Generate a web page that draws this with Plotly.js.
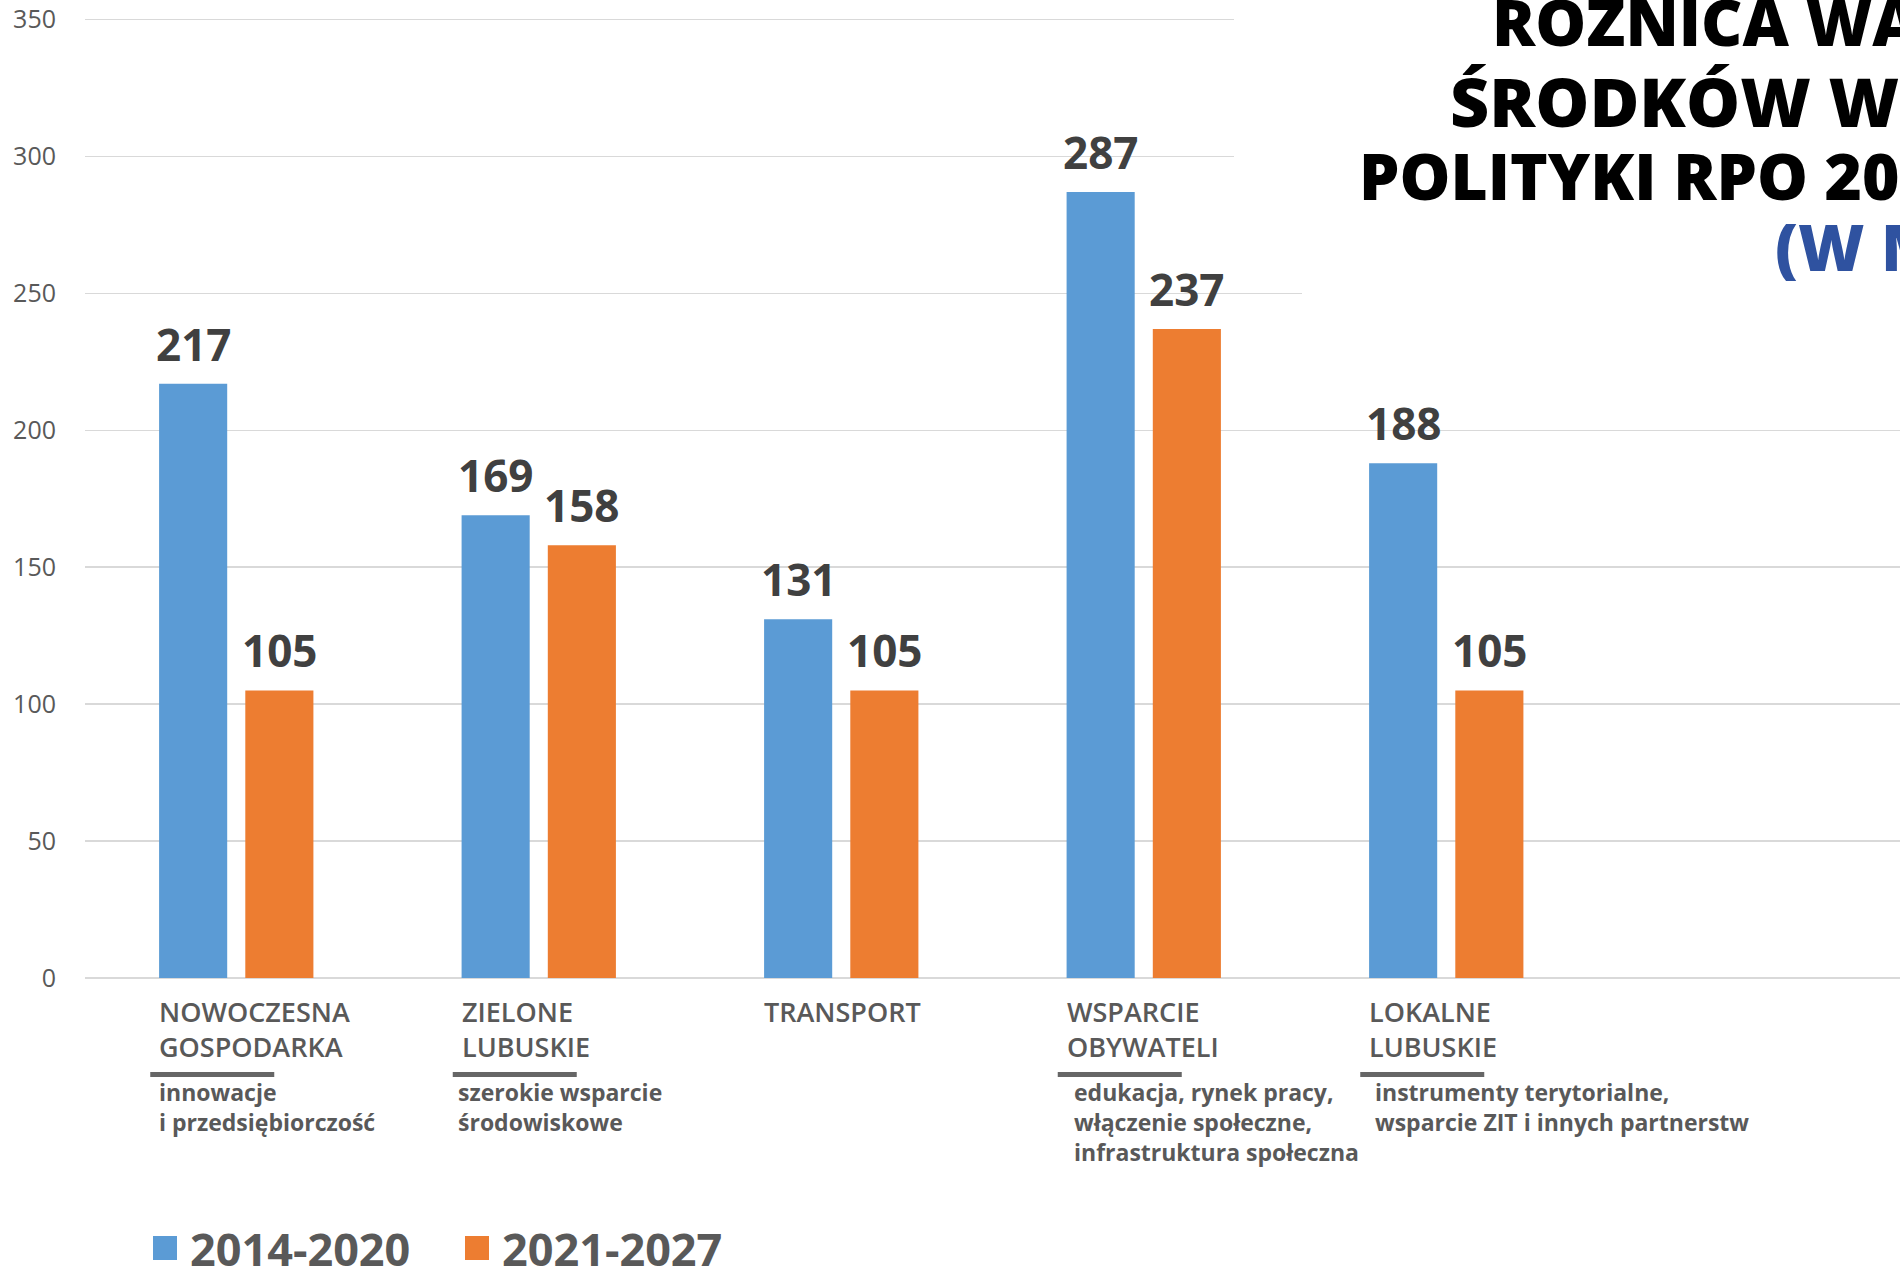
<!DOCTYPE html>
<html>
<head>
<meta charset="utf-8">
<script src="https://cdn.plot.ly/plotly-3.0.1.min.js"></script>
<style>
  html, body { margin: 0; padding: 0; background: #ffffff; overflow: hidden; }
  #chart { width: 1900px; height: 1269px; }
</style>
</head>
<body>
<div id="chart"></div>
<script>
// ---- data ----
const categories = ['NOWOCZESNA GOSPODARKA', 'ZIELONE LUBUSKIE', 'TRANSPORT', 'WSPARCIE OBYWATELI', 'LOKALNE LUBUSKIE'];
const categoryLabels = ['NOWOCZESNA<br>GOSPODARKA', 'ZIELONE<br>LUBUSKIE', 'TRANSPORT', 'WSPARCIE<br>OBYWATELI', 'LOKALNE<br>LUBUSKIE'];
const subtitles = [
  'innowacje<br>i przedsiębiorczość',
  'szerokie wsparcie<br>środowiskowe',
  '',
  'edukacja, rynek pracy,<br>włączenie społeczne,<br>infrastruktura społeczna',
  'instrumenty terytorialne,<br>wsparcie ZIT i innych partnerstw'
];
const underlined = [true, true, false, true, true];
const seriesNames = ['2014-2020', '2021-2027'];
const values2014 = [217, 169, 131, 287, 188];
const values2021 = [105, 158, 105, 237, 105];
// title as visible in the (cropped) reference
const titleLines = ['RÓŻNICA WA', 'ŚRODKÓW W', 'POLITYKI RPO 20', '(W M'];
const yTicks = [0, 50, 100, 150, 200, 250, 300, 350];

// ---- styles / geometry ----
const W = 1900, H = 1269;
const M = { l: 85, r: 0, t: 14, b: 291 };
const Y_MAX = 352;
const plotW = W - M.l - M.r, plotH = H - M.t - M.b;
const px = X => (X - M.l) / plotW;          // pixel -> paper x
const py = Y => (H - M.b - Y) / plotH;      // pixel -> paper y
const BLUE = '#5b9bd5', ORANGE = '#ed7d31', GREY = '#595959', DARK = '#404040';
const FONT = '"Open Sans", "Noto Sans", sans-serif';
const bargap = 0.43, bargroupgap = 0.21;
const barOffset = (1 - bargap) / 4;
const subtitleShift = [-79, -83, 0, -72, -73];

const traces = [
  { type: 'bar', name: seriesNames[0], x: categories, y: values2014, marker: { color: BLUE }, hoverinfo: 'none' },
  { type: 'bar', name: seriesNames[1], x: categories, y: values2021, marker: { color: ORANGE }, hoverinfo: 'none' }
];

const annotations = [];
const shapes = [];

// value labels
[values2014, values2021].forEach((vals, s) => {
  vals.forEach((v, i) => {
    annotations.push({
      xref: 'x', yref: 'y', x: i + (s === 0 ? -barOffset : barOffset), y: v,
      text: String(v), showarrow: false, xanchor: 'center', yanchor: 'bottom', yshift: 8,
      font: { family: FONT, size: 44, color: DARK, weight: 700 }
    });
  });
});

// category labels, underlines, subtitles
categoryLabels.forEach((lab, i) => {
  annotations.push({
    xref: 'x', yref: 'paper', x: i, y: 0, xshift: -79, yshift: -13,
    text: lab, showarrow: false, xanchor: 'left', yanchor: 'top', align: 'left',
    font: { family: FONT, size: 27, color: GREY, weight: 600 }
  });
  if (subtitles[i]) {
    annotations.push({
      xref: 'x', yref: 'paper', x: i, y: 0, xshift: subtitleShift[i], yshift: -96,
      text: subtitles[i], showarrow: false, xanchor: 'left', yanchor: 'top', align: 'left',
      font: { family: FONT, size: 23, color: GREY, weight: 700 }
    });
  }
  if (underlined[i]) {
    shapes.push({
      type: 'rect', xref: 'x', xsizemode: 'pixel', xanchor: i, x0: -86, x1: 38,
      yref: 'paper', ysizemode: 'pixel', yanchor: 0, y0: -94, y1: -99,
      fillcolor: '#666666', line: { width: 0 }
    });
  }
});

// white title box (hides gridlines behind the title)
shapes.push({ type: 'rect', xref: 'paper', yref: 'paper', layer: 'above',
  x0: px(1234), x1: px(1905), y0: py(205), y1: py(-5), fillcolor: '#ffffff', line: { width: 0 } });
shapes.push({ type: 'rect', xref: 'paper', yref: 'paper', layer: 'above',
  x0: px(1302), x1: px(1905), y0: py(305), y1: py(200), fillcolor: '#ffffff', line: { width: 0 } });

// title lines
const titleX = [1490, 1448, 1357, 1773];
const titleY = [22, 100, 176, 246];
const titleSize = [64, 68, 64, 64];
titleLines.forEach((t, k) => {
  annotations.push({
    xref: 'paper', yref: 'paper', x: px(titleX[k]), y: py(titleY[k]),
    text: t, showarrow: false, xanchor: 'left', yanchor: 'middle', align: 'left',
    font: { family: FONT, size: titleSize[k], color: k === 3 ? '#2f52a0' : '#000000', weight: 800 }
  });
});

// legend (manual)
const legendSquares = [[153, 177], [465, 489]];
const legendTextX = [188, 500];
const legendColors = [BLUE, ORANGE];
seriesNames.forEach((n, s) => {
  shapes.push({ type: 'rect', xref: 'paper', yref: 'paper',
    x0: px(legendSquares[s][0]), x1: px(legendSquares[s][1]), y0: py(1260), y1: py(1236),
    fillcolor: legendColors[s], line: { width: 0 } });
  annotations.push({
    xref: 'paper', yref: 'paper', x: px(legendTextX[s]), y: py(1248),
    text: n, showarrow: false, xanchor: 'left', yanchor: 'middle',
    font: { family: FONT, size: 45, color: GREY, weight: 700 }
  });
});

const layout = {
  width: W, height: H,
  margin: M,
  paper_bgcolor: '#ffffff', plot_bgcolor: '#ffffff',
  barmode: 'group', bargap: bargap, bargroupgap: bargroupgap,
  showlegend: false,
  font: { family: FONT, color: GREY },
  xaxis: {
    type: 'category', range: [-0.5, 5.5], showticklabels: false, showgrid: false,
    zeroline: false, showline: false, ticks: '', fixedrange: true
  },
  yaxis: {
    range: [0, Y_MAX], tickvals: yTicks, ticktext: yTicks.map(String),
    showgrid: true, gridcolor: '#d9d9d9', gridwidth: 1.5,
    zeroline: true, zerolinecolor: '#d9d9d9', zerolinewidth: 2,
    showline: false, ticks: '', ticklabelstandoff: 28,
    tickfont: { family: FONT, size: 25, color: GREY }, fixedrange: true
  },
  annotations: annotations,
  shapes: shapes
};

Plotly.newPlot('chart', traces, layout, { displayModeBar: false, staticPlot: true });
</script>
</body>
</html>
